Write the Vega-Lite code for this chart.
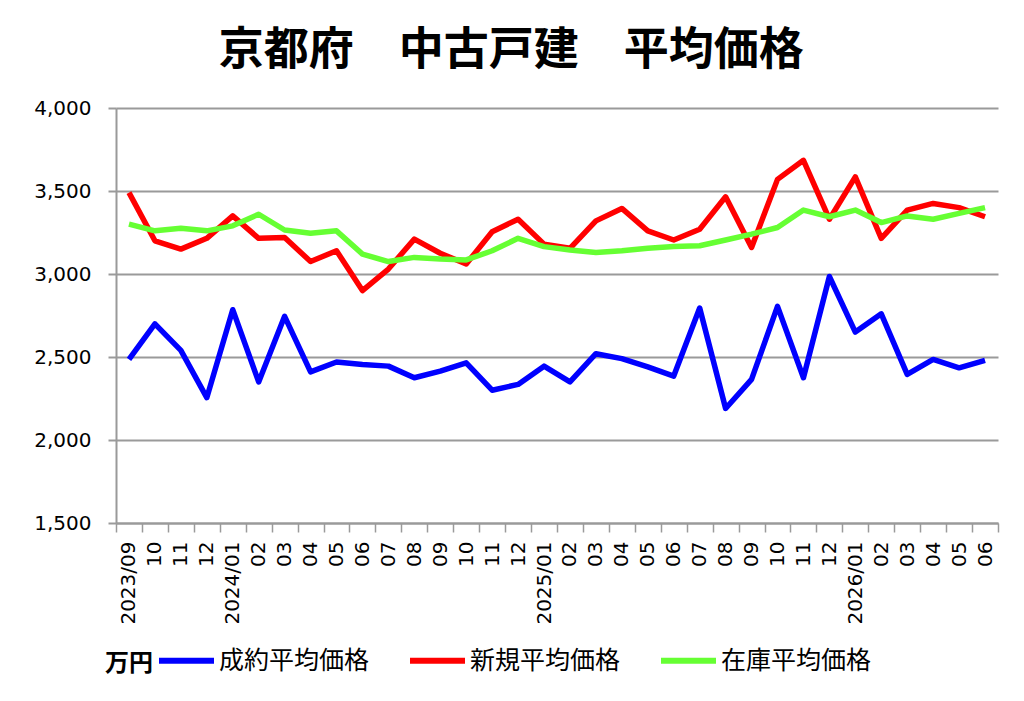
{
  "$schema": "https://vega.github.io/schema/vega-lite/v6.json",
  "autosize": {"type": "none"},
  "padding": {"left": 116, "top": 108, "right": 26, "bottom": 178},
  "width": 882,
  "height": 415,
  "background": "white",
  "title": {
    "text": "京都府　中古戸建　平均価格",
    "font": "Noto Sans CJK JP",
    "fontSize": 45,
    "fontWeight": "bold",
    "color": "black",
    "anchor": "middle",
    "frame": "bounds",
    "baseline": "alphabetic",
    "offset": -12,
    "dx": -5
  },
  "data": {
    "values": [
      {"month": "2023/09", "s": "成約平均価格", "price": 2485},
      {"month": "2023/10", "s": "成約平均価格", "price": 2700},
      {"month": "2023/11", "s": "成約平均価格", "price": 2540},
      {"month": "2023/12", "s": "成約平均価格", "price": 2255},
      {"month": "2024/01", "s": "成約平均価格", "price": 2785},
      {"month": "2024/02", "s": "成約平均価格", "price": 2350},
      {"month": "2024/03", "s": "成約平均価格", "price": 2745},
      {"month": "2024/04", "s": "成約平均価格", "price": 2410},
      {"month": "2024/05", "s": "成約平均価格", "price": 2470},
      {"month": "2024/06", "s": "成約平均価格", "price": 2455},
      {"month": "2024/07", "s": "成約平均価格", "price": 2445},
      {"month": "2024/08", "s": "成約平均価格", "price": 2375},
      {"month": "2024/09", "s": "成約平均価格", "price": 2415},
      {"month": "2024/10", "s": "成約平均価格", "price": 2465},
      {"month": "2024/11", "s": "成約平均価格", "price": 2300},
      {"month": "2024/12", "s": "成約平均価格", "price": 2335},
      {"month": "2025/01", "s": "成約平均価格", "price": 2445},
      {"month": "2025/02", "s": "成約平均価格", "price": 2350},
      {"month": "2025/03", "s": "成約平均価格", "price": 2520},
      {"month": "2025/04", "s": "成約平均価格", "price": 2490},
      {"month": "2025/05", "s": "成約平均価格", "price": 2440},
      {"month": "2025/06", "s": "成約平均価格", "price": 2385},
      {"month": "2025/07", "s": "成約平均価格", "price": 2795},
      {"month": "2025/08", "s": "成約平均価格", "price": 2190},
      {"month": "2025/09", "s": "成約平均価格", "price": 2365},
      {"month": "2025/10", "s": "成約平均価格", "price": 2805},
      {"month": "2025/11", "s": "成約平均価格", "price": 2375},
      {"month": "2025/12", "s": "成約平均価格", "price": 2985},
      {"month": "2026/01", "s": "成約平均価格", "price": 2650},
      {"month": "2026/02", "s": "成約平均価格", "price": 2760},
      {"month": "2026/03", "s": "成約平均価格", "price": 2395},
      {"month": "2026/04", "s": "成約平均価格", "price": 2485},
      {"month": "2026/05", "s": "成約平均価格", "price": 2435},
      {"month": "2026/06", "s": "成約平均価格", "price": 2480},
      {"month": "2023/09", "s": "新規平均価格", "price": 3490},
      {"month": "2023/10", "s": "新規平均価格", "price": 3200},
      {"month": "2023/11", "s": "新規平均価格", "price": 3150},
      {"month": "2023/12", "s": "新規平均価格", "price": 3215},
      {"month": "2024/01", "s": "新規平均価格", "price": 3350},
      {"month": "2024/02", "s": "新規平均価格", "price": 3215},
      {"month": "2024/03", "s": "新規平均価格", "price": 3220},
      {"month": "2024/04", "s": "新規平均価格", "price": 3075},
      {"month": "2024/05", "s": "新規平均価格", "price": 3140},
      {"month": "2024/06", "s": "新規平均価格", "price": 2900},
      {"month": "2024/07", "s": "新規平均価格", "price": 3030},
      {"month": "2024/08", "s": "新規平均価格", "price": 3210},
      {"month": "2024/09", "s": "新規平均価格", "price": 3125},
      {"month": "2024/10", "s": "新規平均価格", "price": 3060},
      {"month": "2024/11", "s": "新規平均価格", "price": 3255},
      {"month": "2024/12", "s": "新規平均価格", "price": 3330},
      {"month": "2025/01", "s": "新規平均価格", "price": 3180},
      {"month": "2025/02", "s": "新規平均価格", "price": 3155},
      {"month": "2025/03", "s": "新規平均価格", "price": 3320},
      {"month": "2025/04", "s": "新規平均価格", "price": 3395},
      {"month": "2025/05", "s": "新規平均価格", "price": 3260},
      {"month": "2025/06", "s": "新規平均価格", "price": 3205},
      {"month": "2025/07", "s": "新規平均価格", "price": 3270},
      {"month": "2025/08", "s": "新規平均価格", "price": 3465},
      {"month": "2025/09", "s": "新規平均価格", "price": 3160},
      {"month": "2025/10", "s": "新規平均価格", "price": 3570},
      {"month": "2025/11", "s": "新規平均価格", "price": 3685},
      {"month": "2025/12", "s": "新規平均価格", "price": 3330},
      {"month": "2026/01", "s": "新規平均価格", "price": 3585},
      {"month": "2026/02", "s": "新規平均価格", "price": 3215},
      {"month": "2026/03", "s": "新規平均価格", "price": 3385},
      {"month": "2026/04", "s": "新規平均価格", "price": 3425},
      {"month": "2026/05", "s": "新規平均価格", "price": 3400},
      {"month": "2026/06", "s": "新規平均価格", "price": 3345},
      {"month": "2023/09", "s": "在庫平均価格", "price": 3300},
      {"month": "2023/10", "s": "在庫平均価格", "price": 3260},
      {"month": "2023/11", "s": "在庫平均価格", "price": 3275},
      {"month": "2023/12", "s": "在庫平均価格", "price": 3260},
      {"month": "2024/01", "s": "在庫平均価格", "price": 3290},
      {"month": "2024/02", "s": "在庫平均価格", "price": 3360},
      {"month": "2024/03", "s": "在庫平均価格", "price": 3265},
      {"month": "2024/04", "s": "在庫平均価格", "price": 3245},
      {"month": "2024/05", "s": "在庫平均価格", "price": 3260},
      {"month": "2024/06", "s": "在庫平均価格", "price": 3120},
      {"month": "2024/07", "s": "在庫平均価格", "price": 3075},
      {"month": "2024/08", "s": "在庫平均価格", "price": 3100},
      {"month": "2024/09", "s": "在庫平均価格", "price": 3090},
      {"month": "2024/10", "s": "在庫平均価格", "price": 3085},
      {"month": "2024/11", "s": "在庫平均価格", "price": 3140},
      {"month": "2024/12", "s": "在庫平均価格", "price": 3215},
      {"month": "2025/01", "s": "在庫平均価格", "price": 3165},
      {"month": "2025/02", "s": "在庫平均価格", "price": 3145},
      {"month": "2025/03", "s": "在庫平均価格", "price": 3130},
      {"month": "2025/04", "s": "在庫平均価格", "price": 3140},
      {"month": "2025/05", "s": "在庫平均価格", "price": 3155},
      {"month": "2025/06", "s": "在庫平均価格", "price": 3165},
      {"month": "2025/07", "s": "在庫平均価格", "price": 3170},
      {"month": "2025/08", "s": "在庫平均価格", "price": 3205},
      {"month": "2025/09", "s": "在庫平均価格", "price": 3240},
      {"month": "2025/10", "s": "在庫平均価格", "price": 3280},
      {"month": "2025/11", "s": "在庫平均価格", "price": 3385},
      {"month": "2025/12", "s": "在庫平均価格", "price": 3345},
      {"month": "2026/01", "s": "在庫平均価格", "price": 3385},
      {"month": "2026/02", "s": "在庫平均価格", "price": 3310},
      {"month": "2026/03", "s": "在庫平均価格", "price": 3350},
      {"month": "2026/04", "s": "在庫平均価格", "price": 3330},
      {"month": "2026/05", "s": "在庫平均価格", "price": 3365},
      {"month": "2026/06", "s": "在庫平均価格", "price": 3400}
    ]
  },
  "mark": {"type": "line", "strokeWidth": 5.5, "strokeJoin": "round"},
  "encoding": {
    "x": {
      "field": "month",
      "type": "ordinal",
      "sort": null,
      "scale": {"type": "band", "paddingInner": 0, "paddingOuter": 0},
      "axis": {
        "title": null,
        "labelAngle": -90,
        "labelAlign": "right",
        "labelBaseline": "middle",
        "labelFont": "DejaVu Sans",
        "labelFontSize": 20,
        "labelColor": "black",
        "labelPadding": 9,
        "labelExpr": "isString(datum.value) ? ((datum.value == '2023/09' || substring(datum.value, 5) == '01') ? datum.value : substring(datum.value, 5)) : ''",
        "tickBand": "extent",
        "tickSize": 9,
        "tickColor": "#9a9a9a",
        "tickWidth": 1.5,
        "domainColor": "#9a9a9a",
        "domainWidth": 2,
        "grid": false,
        "labelOverlap": false
      }
    },
    "y": {
      "field": "price",
      "type": "quantitative",
      "scale": {"domain": [1500, 4000], "zero": false, "nice": false},
      "axis": {
        "title": null,
        "values": [1500, 2000, 2500, 3000, 3500, 4000],
        "format": ",.0f",
        "labelFont": "DejaVu Sans",
        "labelFontSize": 20,
        "labelColor": "black",
        "labelPadding": 17,
        "tickSize": 8,
        "tickColor": "#9a9a9a",
        "tickWidth": 2,
        "domainColor": "#9a9a9a",
        "domainWidth": 2,
        "grid": true,
        "gridColor": "#9a9a9a",
        "gridWidth": 2
      }
    },
    "color": {
      "field": "s",
      "type": "nominal",
      "sort": null,
      "scale": {
        "domain": ["成約平均価格", "新規平均価格", "在庫平均価格"],
        "range": ["#0000ff", "#ff0000", "#66ff33"]
      },
      "legend": {
        "title": "万円",
        "titleOrient": "left",
        "titleAnchor": "middle",
        "titleBaseline": "top",
        "titleFont": "Noto Sans CJK JP",
        "titleFontSize": 24,
        "titleFontWeight": "bold",
        "titleColor": "black",
        "titlePadding": 3,
        "orient": "none",
        "direction": "horizontal",
        "legendX": -11,
        "legendY": 522,
        "symbolType": "stroke",
        "symbolSize": 3025,
        "symbolStrokeWidth": 6,
        "labelFont": "Noto Sans CJK JP",
        "labelFontSize": 25,
        "labelColor": "black",
        "labelOffset": 2,
        "labelLimit": 300,
        "columnPadding": 28
      }
    }
  },
  "config": {
    "view": {"stroke": null}
  }
}
